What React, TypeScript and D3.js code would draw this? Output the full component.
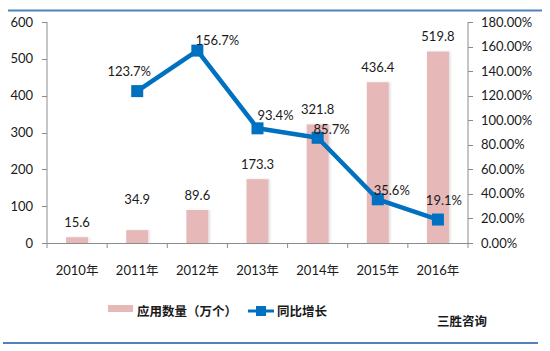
import React from "react";
import * as d3 from "d3";

const categories = ["2010年", "2011年", "2012年", "2013年", "2014年", "2015年", "2016年"];
const appCounts = [15.6, 34.9, 89.6, 173.3, 321.8, 436.4, 519.8];
const growth: (number | null)[] = [null, 123.7, 156.7, 93.4, 85.7, 35.6, 19.1];
const leftTicks = [0, 100, 200, 300, 400, 500, 600];
const rightTicks = [0, 20, 40, 60, 80, 100, 120, 140, 160, 180];
const barSeriesName = "应用数量（万个）";
const lineSeriesName = "同比增长";
const source = "三胜咨询";

const W = 550;
const H = 351;
const plot = { left: 47, right: 468, top: 22, bottom: 243 };
const numFont = "Lato, 'Noto Sans', sans-serif";
const cjkFont = "'Noto Sans CJK SC', sans-serif";
const barColor = "#E6B9B8";
const lineColor = "#0070C0";
const axisColor = "#8C8C8C";
// label placement offsets (dx, dy relative to point)
const lineLabelOffsets: [number, number][] = [
  [0, 0], [-8, -20], [20, -10], [18, -13], [14, -8], [14, -9], [6, -19],
];
const barLabelExtra = [0, 16, 0, 0, 0, 0, 0];

export default function App() {
  const x = d3.scaleBand<string>().domain(categories).range([plot.left, plot.right]).padding(0);
  const yL = d3.scaleLinear().domain([0, 600]).range([plot.bottom, plot.top]);
  const yR = d3.scaleLinear().domain([0, 180]).range([plot.bottom, plot.top]);
  const barW = 22;
  const cx = (c: string) => (x(c) as number) + x.bandwidth() / 2;

  const pts = categories
    .map((c, i) => ({ c, v: growth[i], i }))
    .filter((d) => d.v !== null) as { c: string; v: number; i: number }[];
  const line = d3
    .line<{ c: string; v: number }>()
    .x((d) => cx(d.c))
    .y((d) => yR(d.v));

  const boundaries = d3.range(categories.length + 1).map((i) => plot.left + i * x.bandwidth());

  return (
    <svg width={W} height={H} style={{ position: "absolute", left: 0, top: 0, background: "#fff" }}>
      <defs>
        <filter id="sh" x="-20%" y="-5%" width="150%" height="110%">
          <feDropShadow dx="1.5" dy="0" stdDeviation="0.8" floodColor="#000" floodOpacity="0.12" />
        </filter>
      </defs>
      <rect x={0} y={0} width={W} height={H} fill="#fff" />
      {/* frame lines */}
      <line x1={8} x2={542} y1={10.5} y2={10.5} stroke="#4F81BD" strokeWidth={2} />
      <line x1={3} x2={538} y1={343} y2={343} stroke="#4F81BD" strokeWidth={2} />

      {/* bars */}
      {categories.map((c, i) => (
        <rect
          key={c}
          x={cx(c) - barW / 2}
          y={yL(appCounts[i])}
          width={barW}
          height={plot.bottom - yL(appCounts[i])}
          fill={barColor}
          filter="url(#sh)"
        />
      ))}

      {/* axes */}
      <line x1={plot.left} x2={plot.left} y1={plot.top} y2={plot.bottom} stroke={axisColor} />
      <line x1={plot.right} x2={plot.right} y1={plot.top} y2={plot.bottom} stroke={axisColor} />
      <line x1={plot.left} x2={plot.right} y1={plot.bottom + 0.5} y2={plot.bottom + 0.5} stroke={axisColor} />
      {leftTicks.map((t) => (
        <g key={"l" + t}>
          <line x1={plot.left - 5} x2={plot.left} y1={Math.round(yL(t)) + 0.5} y2={Math.round(yL(t)) + 0.5} stroke={axisColor} />
          <text x={33} y={yL(t)} dy="0.35em" textAnchor="end" fontFamily={numFont} fontSize={13} fill="#1a1a1a">
            {t}
          </text>
        </g>
      ))}
      {rightTicks.map((t) => (
        <g key={"r" + t}>
          <line x1={plot.right} x2={plot.right + 5} y1={Math.round(yR(t)) + 0.5} y2={Math.round(yR(t)) + 0.5} stroke={axisColor} />
          <text x={481} y={yR(t)} dy="0.35em" textAnchor="start" fontFamily={numFont} fontSize={13} fill="#1a1a1a">
            {t.toFixed(2) + "%"}
          </text>
        </g>
      ))}
      {boundaries.map((b, i) => (
        <line key={"b" + i} x1={b} x2={b} y1={plot.bottom} y2={plot.bottom + 5} stroke={axisColor} />
      ))}
      {categories.map((c) => (
        <text key={"x" + c} x={cx(c)} y={270} dy="0.35em" textAnchor="middle" fontFamily={numFont} fontSize={13} fill="#1a1a1a">
          {c.replace("年", "")}
          <tspan fontFamily={cjkFont} fontSize={12.5}>年</tspan>
        </text>
      ))}

      {/* bar labels */}
      {categories.map((c, i) => (
        <text
          key={"bl" + c}
          x={cx(c)}
          y={yL(appCounts[i]) - 15 - barLabelExtra[i]}
          dy="0.35em"
          textAnchor="middle"
          fontFamily={numFont}
          fontSize={13}
          fill="#1a1a1a"
        >
          {appCounts[i].toFixed(1)}
        </text>
      ))}

      {/* line */}
      <path d={line(pts) || ""} fill="none" stroke={lineColor} strokeWidth={4.5} strokeLinejoin="round" />
      {pts.map((d) => (
        <rect key={"m" + d.c} x={cx(d.c) - 6} y={yR(d.v) - 6} width={12} height={12} fill={lineColor} />
      ))}
      {pts.map((d) => (
        <text
          key={"ll" + d.c}
          x={cx(d.c) + lineLabelOffsets[d.i][0]}
          y={yR(d.v) + lineLabelOffsets[d.i][1]}
          dy="0.35em"
          textAnchor="middle"
          fontFamily={numFont}
          fontSize={13}
          fill="#1a1a1a"
        >
          {d.v.toFixed(1) + "%"}
        </text>
      ))}

      {/* legend */}
      <rect x={108} y={305} width={25} height={7} fill={barColor} />
      <text x={137} y={312} dy="0.35em" fontFamily={cjkFont} fontWeight="bold" fontSize={12.5} fill="#1a1a1a">
        {barSeriesName}
      </text>
      <line x1={248} x2={274} y1={311} y2={311} stroke={lineColor} strokeWidth={3} />
      <rect x={256} y={306} width={10} height={10} fill={lineColor} />
      <text x={277} y={312} dy="0.35em" fontFamily={cjkFont} fontWeight="bold" fontSize={12.5} fill="#1a1a1a">
        {lineSeriesName}
      </text>
      <text x={437} y={322} dy="0.35em" fontFamily={cjkFont} fontWeight="bold" fontSize={12.5} fill="#1a1a1a">
        {source}
      </text>
    </svg>
  );
}
